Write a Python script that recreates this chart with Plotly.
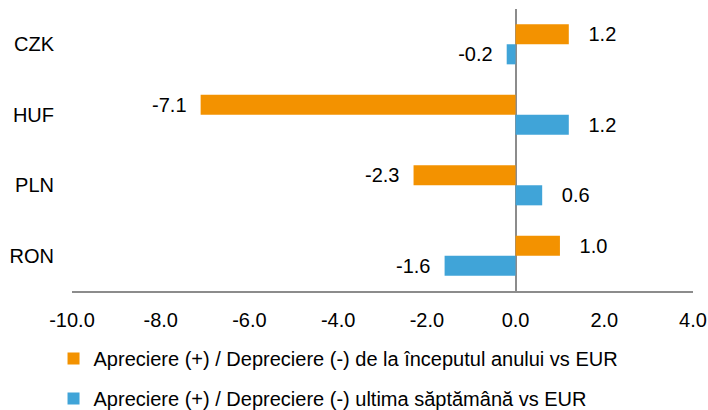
import plotly.graph_objects as go

categories = ["CZK", "HUF", "PLN", "RON"]
ytd_values = [1.2, -7.1, -2.3, 1.0]
week_values = [-0.2, 1.2, 0.6, -1.6]
series_names = [
    "Apreciere (+) / Depreciere (-) de la începutul anului vs EUR",
    "Apreciere (+) / Depreciere (-) ultima săptămână vs EUR",
]
tick_vals = [-10, -8, -6, -4, -2, 0, 2, 4]
tick_text = ["-10.0", "-8.0", "-6.0", "-4.0", "-2.0", "0.0", "2.0", "4.0"]

ORANGE = "#F39200"
BLUE = "#40A4D8"
FONT = "Liberation Sans, Arial, sans-serif"
FS = 20
NB = "\u00a0"


def labels(vals):
    return [(NB * 3 + f"{v:.1f}") if v >= 0 else (f"{v:.1f}" + NB * 2) for v in vals]


fig = go.Figure()
for name, vals, col, grp in [
    (series_names[0], ytd_values, ORANGE, "a"),
    (series_names[1], week_values, BLUE, "b"),
]:
    fig.add_trace(go.Bar(
        y=categories, x=vals, orientation="h", name=name,
        marker=dict(color=col, line=dict(width=0)),
        text=labels(vals), textposition="outside", cliponaxis=False,
        constraintext="none",
        textfont=dict(family=FONT, size=FS, color="#000000"),
        legendgroup=grp,
    ))

fig.update_layout(
    width=708, height=410,
    margin=dict(l=72, r=15, t=9, b=119, autoexpand=False),
    paper_bgcolor="white", plot_bgcolor="white",
    barmode="group", bargap=0.43, bargroupgap=0,
    font=dict(family=FONT, size=FS, color="#000000"),
    showlegend=True,
    legend=dict(
        orientation="v", xref="container", yref="container",
        x=0.0756, xanchor="left", y=0.173, yanchor="top",
        font=dict(family=FONT, size=FS, color="#000000"),
        tracegroupgap=11, traceorder="grouped",
        bgcolor="rgba(0,0,0,0)",
    ),
    xaxis=dict(
        range=[-10, 4], tickvals=tick_vals, ticktext=tick_text,
        showgrid=False, zeroline=True, zerolinecolor="#8C8C8C", zerolinewidth=1.5,
        showline=True, linecolor="#8C8C8C", linewidth=2,
        ticks="", ticklabelstandoff=10, automargin=False,
        tickfont=dict(family=FONT, size=FS, color="#000000"),
    ),
    yaxis=dict(
        autorange="reversed", showgrid=False, zeroline=False, showline=False,
        ticks="", ticklabelstandoff=17, automargin=False,
        tickfont=dict(family=FONT, size=FS, color="#000000"),
    ),
)

fig.write_html(
    "out.html",
    config={"displayModeBar": False},
    post_script="document.body.style.margin='0';document.body.style.overflow='hidden';",
)
